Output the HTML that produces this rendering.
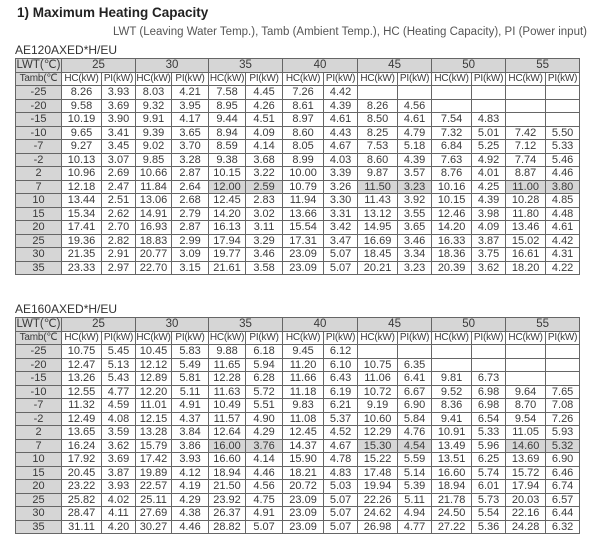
<!DOCTYPE html>
<html><head><meta charset="utf-8"><style>
body{margin:0;width:600px;height:548px;background:#fff;position:relative;overflow:hidden;font-family:"Liberation Sans",sans-serif;color:#333}
.t{position:absolute;left:17px;top:5px;font-size:13.5px;font-weight:bold;color:#222}
.s{position:absolute;right:13px;top:26px;font-size:11.5px;color:#555}
.m{position:absolute;left:15px;font-size:12px;color:#333}
table{position:absolute;left:15px;border-collapse:collapse;table-layout:fixed;width:564px;font-size:11px;color:#3a3a3a}
td{border:1px solid #666;padding:0;height:12.5px;line-height:12px;text-align:center;white-space:nowrap;overflow:hidden}
tr.h1 td{background:#d6d6d6;font-size:11.5px}
tr.h2 td{font-size:10px;letter-spacing:-0.2px}
td:first-child{background:#d6d6d6}
td.g{background:#d6d6d6}
</style></head><body>
<div class="t">1) Maximum Heating Capacity</div>
<div class="s">LWT (Leaving Water Temp.), Tamb (Ambient Temp.), HC (Heating Capacity), PI (Power input)</div>
<div class="m" style="top:43px">AE120AXED*H/EU</div>
<table style="top:58px">
<colgroup><col style="width:46px"><col style="width:40px"><col style="width:34px"><col style="width:36px"><col style="width:37px"><col style="width:37px"><col style="width:37px"><col style="width:41px"><col style="width:34px"><col style="width:40px"><col style="width:34px"><col style="width:40px"><col style="width:34px"><col style="width:40px"><col style="width:34px"></colgroup>
<tr class="h1"><td>LWT(℃)</td><td colspan="2">25</td><td colspan="2">30</td><td colspan="2">35</td><td colspan="2">40</td><td colspan="2">45</td><td colspan="2">50</td><td colspan="2">55</td></tr>
<tr class="h2"><td>Tamb(℃</td><td>HC(kW)</td><td>PI(kW)</td><td>HC(kW)</td><td>PI(kW)</td><td>HC(kW)</td><td>PI(kW)</td><td>HC(kW)</td><td>PI(kW)</td><td>HC(kW)</td><td>PI(kW)</td><td>HC(kW)</td><td>PI(kW)</td><td>HC(kW)</td><td>PI(kW)</td></tr>
<tr><td>-25</td><td>8.26</td><td>3.93</td><td>8.03</td><td>4.21</td><td>7.58</td><td>4.45</td><td>7.26</td><td>4.42</td><td></td><td></td><td></td><td></td><td></td><td></td></tr>
<tr><td>-20</td><td>9.58</td><td>3.69</td><td>9.32</td><td>3.95</td><td>8.95</td><td>4.26</td><td>8.61</td><td>4.39</td><td>8.26</td><td>4.56</td><td></td><td></td><td></td><td></td></tr>
<tr><td>-15</td><td>10.19</td><td>3.90</td><td>9.91</td><td>4.17</td><td>9.44</td><td>4.51</td><td>8.97</td><td>4.61</td><td>8.50</td><td>4.61</td><td>7.54</td><td>4.83</td><td></td><td></td></tr>
<tr><td>-10</td><td>9.65</td><td>3.41</td><td>9.39</td><td>3.65</td><td>8.94</td><td>4.09</td><td>8.60</td><td>4.43</td><td>8.25</td><td>4.79</td><td>7.32</td><td>5.01</td><td>7.42</td><td>5.50</td></tr>
<tr><td>-7</td><td>9.27</td><td>3.45</td><td>9.02</td><td>3.70</td><td>8.59</td><td>4.14</td><td>8.05</td><td>4.67</td><td>7.53</td><td>5.18</td><td>6.84</td><td>5.25</td><td>7.12</td><td>5.33</td></tr>
<tr><td>-2</td><td>10.13</td><td>3.07</td><td>9.85</td><td>3.28</td><td>9.38</td><td>3.68</td><td>8.99</td><td>4.03</td><td>8.60</td><td>4.39</td><td>7.63</td><td>4.92</td><td>7.74</td><td>5.46</td></tr>
<tr><td>2</td><td>10.96</td><td>2.69</td><td>10.66</td><td>2.87</td><td>10.15</td><td>3.22</td><td>10.00</td><td>3.39</td><td>9.87</td><td>3.57</td><td>8.76</td><td>4.01</td><td>8.87</td><td>4.46</td></tr>
<tr><td>7</td><td>12.18</td><td>2.47</td><td>11.84</td><td>2.64</td><td class="g">12.00</td><td class="g">2.59</td><td>10.79</td><td>3.26</td><td class="g">11.50</td><td class="g">3.23</td><td>10.16</td><td>4.25</td><td class="g">11.00</td><td class="g">3.80</td></tr>
<tr><td>10</td><td>13.44</td><td>2.51</td><td>13.06</td><td>2.68</td><td>12.45</td><td>2.83</td><td>11.94</td><td>3.30</td><td>11.43</td><td>3.92</td><td>10.15</td><td>4.39</td><td>10.28</td><td>4.85</td></tr>
<tr><td>15</td><td>15.34</td><td>2.62</td><td>14.91</td><td>2.79</td><td>14.20</td><td>3.02</td><td>13.66</td><td>3.31</td><td>13.12</td><td>3.55</td><td>12.46</td><td>3.98</td><td>11.80</td><td>4.48</td></tr>
<tr><td>20</td><td>17.41</td><td>2.70</td><td>16.93</td><td>2.87</td><td>16.13</td><td>3.11</td><td>15.54</td><td>3.42</td><td>14.95</td><td>3.65</td><td>14.20</td><td>4.09</td><td>13.46</td><td>4.61</td></tr>
<tr><td>25</td><td>19.36</td><td>2.82</td><td>18.83</td><td>2.99</td><td>17.94</td><td>3.29</td><td>17.31</td><td>3.47</td><td>16.69</td><td>3.46</td><td>16.33</td><td>3.87</td><td>15.02</td><td>4.42</td></tr>
<tr><td>30</td><td>21.35</td><td>2.91</td><td>20.77</td><td>3.09</td><td>19.77</td><td>3.46</td><td>23.09</td><td>5.07</td><td>18.45</td><td>3.34</td><td>18.36</td><td>3.75</td><td>16.61</td><td>4.31</td></tr>
<tr><td>35</td><td>23.33</td><td>2.97</td><td>22.70</td><td>3.15</td><td>21.61</td><td>3.58</td><td>23.09</td><td>5.07</td><td>20.21</td><td>3.23</td><td>20.39</td><td>3.62</td><td>18.20</td><td>4.22</td></tr>
</table>
<div class="m" style="top:302px">AE160AXED*H/EU</div>
<table style="top:317px">
<colgroup><col style="width:46px"><col style="width:40px"><col style="width:34px"><col style="width:36px"><col style="width:37px"><col style="width:37px"><col style="width:37px"><col style="width:41px"><col style="width:34px"><col style="width:40px"><col style="width:34px"><col style="width:40px"><col style="width:34px"><col style="width:40px"><col style="width:34px"></colgroup>
<tr class="h1"><td>LWT(℃)</td><td colspan="2">25</td><td colspan="2">30</td><td colspan="2">35</td><td colspan="2">40</td><td colspan="2">45</td><td colspan="2">50</td><td colspan="2">55</td></tr>
<tr class="h2"><td>Tamb(℃</td><td>HC(kW)</td><td>PI(kW)</td><td>HC(kW)</td><td>PI(kW)</td><td>HC(kW)</td><td>PI(kW)</td><td>HC(kW)</td><td>PI(kW)</td><td>HC(kW)</td><td>PI(kW)</td><td>HC(kW)</td><td>PI(kW)</td><td>HC(kW)</td><td>PI(kW)</td></tr>
<tr><td>-25</td><td>10.75</td><td>5.45</td><td>10.45</td><td>5.83</td><td>9.88</td><td>6.18</td><td>9.45</td><td>6.12</td><td></td><td></td><td></td><td></td><td></td><td></td></tr>
<tr><td>-20</td><td>12.47</td><td>5.13</td><td>12.12</td><td>5.49</td><td>11.65</td><td>5.94</td><td>11.20</td><td>6.10</td><td>10.75</td><td>6.35</td><td></td><td></td><td></td><td></td></tr>
<tr><td>-15</td><td>13.26</td><td>5.43</td><td>12.89</td><td>5.81</td><td>12.28</td><td>6.28</td><td>11.66</td><td>6.43</td><td>11.06</td><td>6.41</td><td>9.81</td><td>6.73</td><td></td><td></td></tr>
<tr><td>-10</td><td>12.55</td><td>4.77</td><td>12.20</td><td>5.11</td><td>11.63</td><td>5.72</td><td>11.18</td><td>6.19</td><td>10.72</td><td>6.67</td><td>9.52</td><td>6.98</td><td>9.64</td><td>7.65</td></tr>
<tr><td>-7</td><td>11.32</td><td>4.59</td><td>11.01</td><td>4.91</td><td>10.49</td><td>5.51</td><td>9.83</td><td>6.21</td><td>9.19</td><td>6.90</td><td>8.36</td><td>6.98</td><td>8.70</td><td>7.08</td></tr>
<tr><td>-2</td><td>12.49</td><td>4.08</td><td>12.15</td><td>4.37</td><td>11.57</td><td>4.90</td><td>11.08</td><td>5.37</td><td>10.60</td><td>5.84</td><td>9.41</td><td>6.54</td><td>9.54</td><td>7.26</td></tr>
<tr><td>2</td><td>13.65</td><td>3.59</td><td>13.28</td><td>3.84</td><td>12.64</td><td>4.29</td><td>12.45</td><td>4.52</td><td>12.29</td><td>4.76</td><td>10.91</td><td>5.33</td><td>11.05</td><td>5.93</td></tr>
<tr><td>7</td><td>16.24</td><td>3.62</td><td>15.79</td><td>3.86</td><td class="g">16.00</td><td class="g">3.76</td><td>14.37</td><td>4.67</td><td class="g">15.30</td><td class="g">4.54</td><td>13.49</td><td>5.96</td><td class="g">14.60</td><td class="g">5.32</td></tr>
<tr><td>10</td><td>17.92</td><td>3.69</td><td>17.42</td><td>3.93</td><td>16.60</td><td>4.14</td><td>15.90</td><td>4.78</td><td>15.22</td><td>5.59</td><td>13.51</td><td>6.25</td><td>13.69</td><td>6.90</td></tr>
<tr><td>15</td><td>20.45</td><td>3.87</td><td>19.89</td><td>4.12</td><td>18.94</td><td>4.46</td><td>18.21</td><td>4.83</td><td>17.48</td><td>5.14</td><td>16.60</td><td>5.74</td><td>15.72</td><td>6.46</td></tr>
<tr><td>20</td><td>23.22</td><td>3.93</td><td>22.57</td><td>4.19</td><td>21.50</td><td>4.56</td><td>20.72</td><td>5.03</td><td>19.94</td><td>5.39</td><td>18.94</td><td>6.01</td><td>17.94</td><td>6.74</td></tr>
<tr><td>25</td><td>25.82</td><td>4.02</td><td>25.11</td><td>4.29</td><td>23.92</td><td>4.75</td><td>23.09</td><td>5.07</td><td>22.26</td><td>5.11</td><td>21.78</td><td>5.73</td><td>20.03</td><td>6.57</td></tr>
<tr><td>30</td><td>28.47</td><td>4.11</td><td>27.69</td><td>4.38</td><td>26.37</td><td>4.91</td><td>23.09</td><td>5.07</td><td>24.62</td><td>4.94</td><td>24.50</td><td>5.54</td><td>22.16</td><td>6.44</td></tr>
<tr><td>35</td><td>31.11</td><td>4.20</td><td>30.27</td><td>4.46</td><td>28.82</td><td>5.07</td><td>23.09</td><td>5.07</td><td>26.98</td><td>4.77</td><td>27.22</td><td>5.36</td><td>24.28</td><td>6.32</td></tr>
</table>
</body></html>
